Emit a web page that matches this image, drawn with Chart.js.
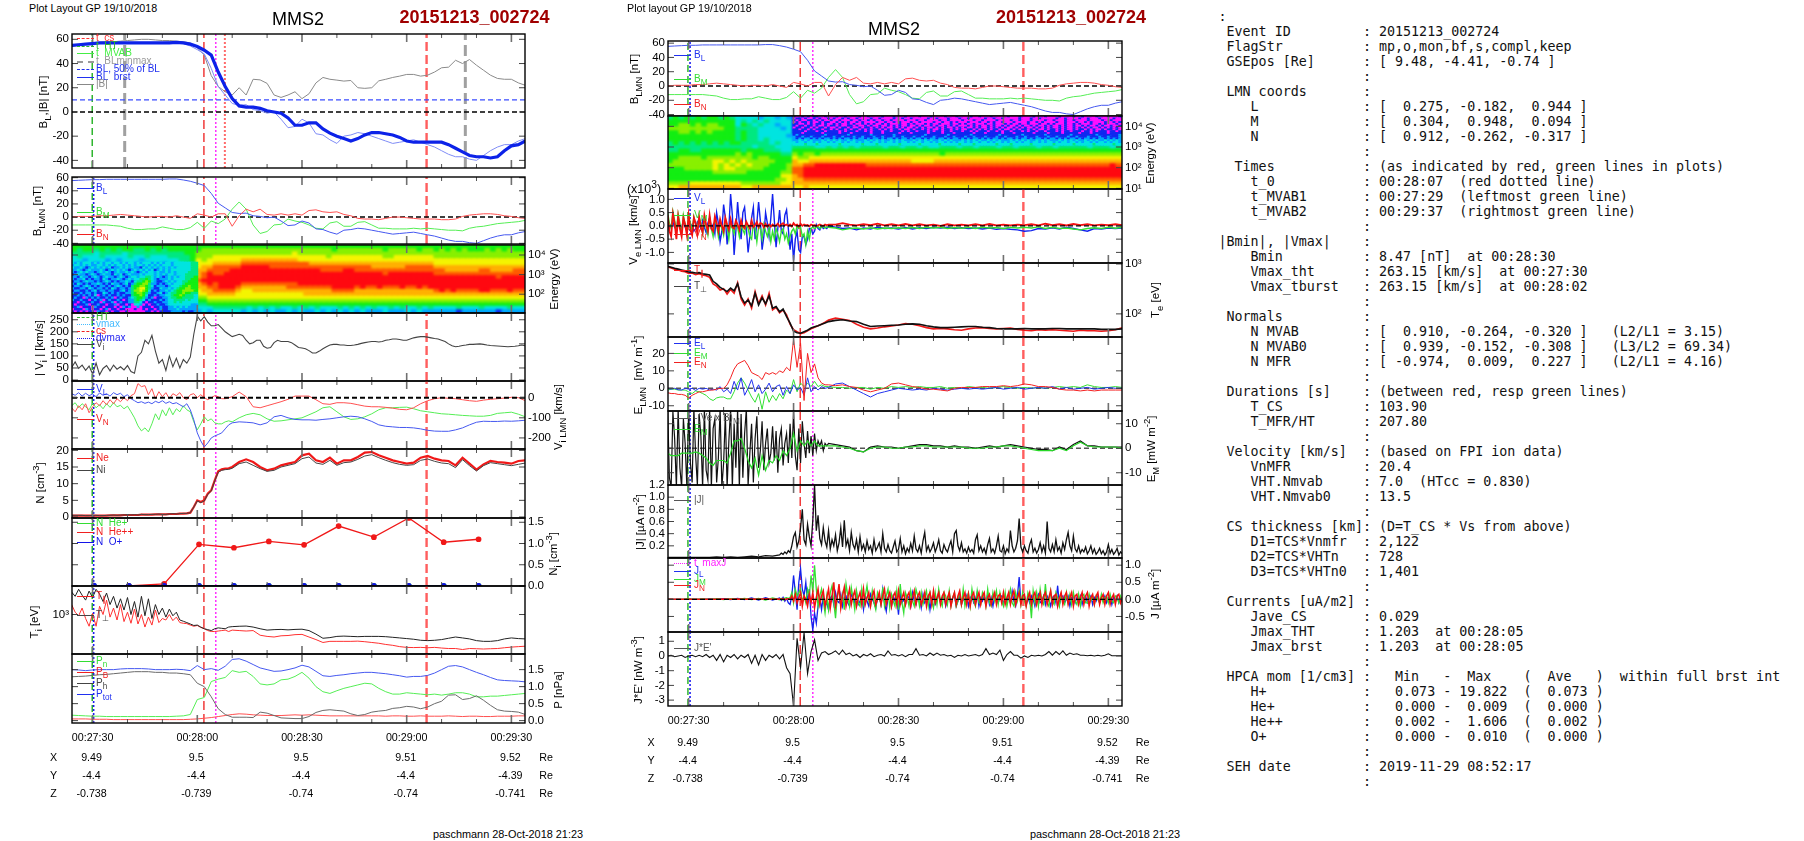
<!DOCTYPE html>
<html>
<head>
<meta charset="utf-8">
<title>MMS2 20151213_002724</title>
<script src="https://cdn.jsdelivr.net/npm/chart.js@4"></script>
<style>
  html, body { margin: 0; background: #fff; width: 1804px; height: 841px; overflow: hidden; }
  body { position: relative; font-family: "Liberation Sans", Arial, sans-serif; color: #000; }
  canvas { position: absolute; }
  .t { position: absolute; white-space: nowrap; line-height: 1; }
  .c { transform: translate(-50%, -50%); }
  .r { transform: translate(-50%, -50%) rotate(-90deg); font-size: 11.5px; }
  .k { position: absolute; height: 0; width: 17px; }
  sub, sup { font-size: 82%; line-height: 0; }
  pre { position: absolute; left: 1218.5px; top: 8.5px; margin: 0; font: 13.33px/15px "DejaVu Sans Mono", monospace; color: #111; }
</style>
</head>
<body>
<pre id="info"></pre>
<script>
// time axis, seconds after 00:27:30
const tMin = -5.9, tMax = 123.9;
const tOne = [], tTwo = [], tMix = [], tHalf = [], tJ = [];
for (let t = -6; t <= 124; t++) tOne.push(t);
for (let t = -6; t <= 124; t += 2) tTwo.push(t);
for (let t = -6; t <= 40; t++) tMix.push(t);
for (let t = 42; t <= 124; t += 2) tMix.push(t);
for (let t = -6; t <= 40; t += 0.5) tHalf.push(t);
for (let t = 42; t <= 124; t += 2) tHalf.push(t);
for (let t = -6; t < 26; t += 2) tJ.push(t);
for (let t = 26; t <= 124; t += 0.5) tJ.push(t);
const timeMajor = [0, 30, 60, 90, 120];
const timeMinor = [10, 20, 40, 50, 70, 80, 100, 110];
const timeLabels = ['00:27:30', '00:28:00', '00:28:30', '00:29:00', '00:29:30'];
const posX = ['9.49', '9.5', '9.5', '9.51', '9.52'];
const posY = ['-4.4', '-4.4', '-4.4', '-4.4', '-4.39'];
const posZ = ['-0.738', '-0.739', '-0.74', '-0.74', '-0.741'];

// magnetic field, tTwo
const bThick = [55,55.5,56,56.5,57,57,57,57,57,57,57,57,57,57,57,57.5,57,56,54,51,47,33,21,11,5,4,4,3,1,0,-1,-5,-11,-11,-9,-9,-14,-17.5,-20,-22,-24,-22,-19,-17,-17,-18,-19,-21,-24,-25,-25,-25,-25,-25,-27,-30,-33,-36,-37,-37,-38,-37,-32,-28,-27,-24];
const bTotal = [54,55,56,57,57.5,58,58,58.5,59,59.5,60,60,59.5,59,59,58.5,58,57,53,47,30,21,16.7,14,20,14,27,26.5,23.6,14,12,14,16.7,11,15,24,28.5,27,26.3,25.5,26,20,19.5,20,25.7,27,28.5,29.6,31,31,29.6,30.4,33,36.5,37,42.7,40,43.3,38.6,34.5,30.4,27.7,27,27,24,22];
const bL = [55.5,56,56.5,57,57,57.5,57.5,57.5,57.5,57.5,57.5,57.5,57.5,57.5,58,58,56.5,54.5,51.5,48,36,21,14,7,5.5,6,2,1,-1,0,-6,-13,-12,-6,-9,-18,-19,-23,-26,-20,-19,-17,-18,-20,-22,-24,-26,-25,-24,-23,-25,-27,-29,-32,-35,-37,-37,-39,-40,-36,-32,-29,-27,-27,-24,-22];
const bM = [-12,-12,-12,-12,-12,-12,-13,-14,-17,-19,-19,-18,-18,-15,-17,-19,-19,-16,-8,-17,-6,-10,-3,12,23,12,-12,-25,-22,-12,-11,-3,-6,-8,-12,-17,-18,-9,-7,-14,-14,-8,-7,-12,-17,-17,-18,-18,-18,-17,-18,-17,-18,-19,-20,-20,-21,-17,-15,-14,-12,-10,-9,-8,-7,-5];
const bN = [0,1,1,1,2,2,3,4,3,2,1,0,1,1,0,2,0,-2,5,3,0,5,5,-14,2,12,8,12,4,3,5,3,5,3,10,11,8,7,8,4,2,-2,-3,-3,-4,-2,0,0,-1,-2,-3,-3,-3,-4,-4,-3,1,3,4,5,5,4,2,1,-1,-2];

// ion speed, tOne
const vIon = [52,75,48,62,40,58,25,70,22,48,60,38,62,45,55,42,60,35,28,100,115,165,150,185,120,70,85,40,100,55,90,50,85,70,95,190,265,245,263,240,225,225,230,215,200,190,180,185,190,185,165,150,155,165,165,140,132,135,155,165,160,160,160,155,145,135,133,130,122,112,112,120,130,138,145,148,148,145,145,143,143,145,148,152,155,158,160,160,158,160,165,167,170,170,168,165,165,170,175,178,180,180,178,175,172,170,165,160,150,142,138,140,143,145,148,148,149,150,148,145,143,142,141,140,139,138,139,140,142,145,142];

// ion velocity components, tMix
const vL = [20,12,25,8,22,10,18,5,24,12,20,8,25,15,22,5,15,-5,-15,-25,-20,-28,-22,-30,-18,-25,-15,-28,-20,-30,-25,-35,-45,-30,-60,-110,-175,-215,-245,-225,-200,-190,-183,-175,-155,-135,-125,-120,-122,-125,-135,-125,-95,-88,-100,-108,-110,-110,-112,-108,-105,-100,-95,-92,-95,-105,-118,-135,-142,-145,-148,-148,-150,-155,-162,-166,-167,-167,-160,-150,-135,-122,-117,-118,-118,-116,-117,-115,-112];
const vM = [-40,-25,-50,-30,-45,-60,-28,-50,-35,-55,-30,-48,-25,-45,-38,-55,-42,-70,-100,-140,-165,-150,-170,-130,-80,-110,-60,-90,-50,-85,-55,-70,-40,-60,-70,-120,-160,-130,-95,-115,-105,-125,-130,-130,-120,-115,-120,-100,-85,-78,-85,-105,-117,-115,-110,-105,-100,-85,-70,-50,-45,-70,-95,-108,-105,-95,-80,-60,-50,-50,-48,-47,-55,-65,-70,-75,-80,-82,-85,-88,-90,-92,-92,-88,-78,-75,-72,-82,-95];
const vN = [-50,-70,-40,-60,-30,-75,-45,-25,-40,-15,-35,-10,-30,-5,-20,0,-15,10,20,70,55,60,15,45,-5,30,5,25,-5,20,10,25,0,-10,15,20,0,15,0,-10,0,10,5,-5,-5,0,5,28,5,-45,-50,-40,-30,-20,-8,8,8,8,-10,-30,-33,-25,-25,-28,-35,-42,-45,-45,-48,-52,-58,-60,-50,-30,-15,-5,0,-3,-5,-10,-15,-18,-12,-8,-5,-2,2,0,-15];

// densities, tMix
const nE = [.4,.4,.4,.4,.4,.4,.4,.4,.4,.4,.4,.5,.5,.5,.5,.6,.6,.6,.6,.6,.7,.7,.7,.7,.8,.8,.8,.8,.9,.9,.9,1,1,1.1,1.3,3,5,4.5,5,7,8,11,13.7,14.3,14.5,14.6,15,16.5,17.3,16.5,15,14,14.5,15.5,16,16.5,18.5,19,17,16.5,17.8,16,17,17,18,19.3,19.5,18.5,17.8,17,16.5,16,16.3,17.8,18.3,17.5,17,16.8,15.5,17.8,16,14.2,15.8,16.8,16.5,16.3,16,16.8,17];
const nI = [.5,.5,.5,.5,.4,.4,.5,.5,.4,.4,.5,.5,.6,.5,.6,.6,.7,.6,.7,.6,.8,.7,.7,.8,.8,.9,.8,.8,.9,1,.9,1,1.1,1.1,1.3,3,4.8,4.3,4.8,6.8,7.8,10.8,13.4,14,14.2,14.3,14.6,16,16.5,15.5,14.5,13.7,14,15,15.5,16,17.5,18,16.2,15.8,17,15.5,16.3,16.5,17.3,18.3,18.7,17.8,17,16.3,15.8,15.5,15.7,17,17.4,16.7,16.2,16,14.8,17.2,15.4,13.8,15.4,16.3,16,15.7,15.4,15.8,16.2];

// HPCA minor ions
const tHpca = [0.4,10.4,20.5,30.5,40.5,50.5,60.6,70.5,80.6,90.6,100.6,110.6];
const nHePlus = [.003,.003,.003,.003,.003,.003,.003,.003,.003,.003,.003,.003];
const nHePP = [null,0,.05,.98,.9,1.05,.97,1.41,1.15,1.6,1.03,1.1];
const nOPlus = [.01,.005,.005,.005,.005,.005,.005,.005,.005,.005,.005,.005];

// ion temperatures, tMix
const tiPerp = [2500,2100,2800,2200,1800,2600,2000,2800,2300,1700,2400,1500,2100,1300,1900,1200,2000,1000,1700,900,2100,950,1900,850,1500,1000,1300,900,1250,950,1100,800,760,720,680,640,650,600,560,540,520,560,580,570,560,600,610,620,625,600,560,530,540,545,535,545,550,520,450,380,390,410,415,410,405,410,410,410,405,395,385,375,365,350,345,350,360,380,400,385,370,345,335,335,345,370,385,375,370];
const tiPar = [1500,1100,950,1300,850,620,1050,620,1400,1000,1800,900,1300,800,1500,750,1100,700,1250,680,1000,600,900,650,1200,720,850,800,1000,780,900,720,700,690,650,620,640,590,560,520,500,500,510,520,530,500,530,520,510,520,430,410,400,420,425,440,445,400,360,320,335,335,335,335,338,330,320,310,295,285,270,262,260,262,258,262,255,250,250,240,250,248,245,248,250,258,265,270,275];

// pressures, tTwo
const pTot = [1.5,1.49,1.47,1.49,1.5,1.5,1.5,1.52,1.53,1.53,1.53,1.52,1.5,1.5,1.5,1.51,1.5,1.47,1.62,1.5,1.53,1.48,1.6,1.8,1.82,1.75,1.65,1.55,1.5,1.45,1.46,1.5,1.55,1.63,1.58,1.45,1.32,1.3,1.33,1.35,1.38,1.4,1.42,1.42,1.4,1.38,1.35,1.32,1.28,1.3,1.3,1.33,1.4,1.5,1.6,1.62,1.58,1.5,1.42,1.35,1.27,1.2,1.18,1.17,1.16,1.14];
const pDyn = [.16,.15,.14,.13,.13,.12,.12,.12,.12,.12,.12,.12,.12,.12,.12,.13,.14,.18,.62,.68,1.15,1.22,1.27,1.47,1.42,1.45,1.3,1.08,1.05,1.08,1.2,1.22,1.3,1.42,1.25,1,.85,.8,.88,.95,1,1.05,1.1,1.08,.95,.85,.78,.78,.82,.8,.78,.76,.78,.75,.78,.82,.82,.78,.7,.7,.72,.72,.74,.76,.78,.8];
const pMag = [.05,.05,.05,.04,.04,.04,.03,.03,.03,.03,.03,.03,.03,.03,.03,.03,.03,.04,.05,.07,.09,.12,.15,.18,.2,.19,.17,.16,.15,.15,.15,.16,.17,.16,.17,.16,.15,.14,.14,.14,.14,.14,.14,.14,.14,.13,.14,.14,.13,.13,.14,.13,.13,.13,.14,.13,.12,.13,.13,.12,.12,.13,.13,.13,.14,.14];
const pTh = [1.29,1.3,1.31,1.33,1.35,1.36,1.38,1.4,1.42,1.44,1.44,1.44,1.42,1.42,1.4,1.4,1.38,1.35,1.1,1,.7,.35,.18,.1,.1,.1,.09,.25,.22,.15,.08,.07,.06,.06,.12,.24,.3,.32,.3,.28,.2,.15,.18,.25,.28,.3,.36,.38,.42,.4,.35,.4,.5,.57,.75,.76,.62,.65,.73,.6,.45,.32,.28,.27,.25,.18];

// electron velocity, tHalf
const veL = [.1,-.1,.05,.15,-.05,-.15,.1,.02,-.1,.2,-.05,-.1,.1,-.05,.05,-.2,-.1,.15,.02,-.1,.2,-.05,-.25,.1,.3,-.1,.05,-.3,.5,.1,-.6,-.2,.8,.3,-.7,-.1,1.2,.4,-1.1,-.2,.9,.1,-.5,.5,.7,-.1,-1,-.4,.3,.7,-.5,.1,.9,.2,-.9,-.4,.5,.1,-.4,.3,1.2,.2,-.8,-.1,.6,-.2,-.3,.4,.6,-.1,-.9,-.3,-1.3,-.5,-.2,-.9,-1,-.4,-.4,-.7,-.5,-.1,-.1,-.3,-.2,.05,-.1,-.15,0,-.1,-.05,-.1,0,
 -.05,-.1,-.08,-.15,-.08,-.12,-.05,-.1,-.08,-.12,-.06,-.12,-.07,-.1,-.05,-.08,-.05,-.1,-.07,-.1,-.08,-.12,-.08,-.13,-.1,-.13,-.15,-.2,-.18,-.1,-.12,-.07,-.12,-.05,-.1,-.15,-.2,-.1,-.12,-.08,-.1,-.08];
const veM = [.5,.1,-.1,.55,.2,-.2,.45,.1,-.3,.4,.05,-.15,.4,.1,-.2,.35,.05,-.1,.3,.1,-.3,.25,-.05,-.35,.3,-.1,-.4,.2,.05,-.4,.15,-.1,-.35,.2,0,-.5,.1,-.1,-.3,.15,-.05,-.4,.1,-.15,-.3,.1,-.1,-.4,-.5,.05,-.1,-.6,-.05,-.1,-.5,.05,-.2,-.4,-.1,-.6,-.2,-.5,-.1,-.3,-.6,-.2,-.1,-.5,-.3,-.65,-.4,-.2,-.1,-.3,0,-.1,-.05,-.4,-.3,-.7,-.2,-.5,-.1,-.05,-.1,-.05,-.02,-.1,-.05,-.02,-.08,-.03,-.05,
 -.08,-.15,-.1,-.08,-.12,-.07,-.12,-.08,-.1,-.07,-.1,-.06,-.1,-.05,-.08,-.05,-.1,-.06,-.09,-.05,-.1,-.05,-.08,-.06,-.1,-.05,-.08,-.05,-.08,-.04,-.1,-.05,-.1,-.08,-.12,-.15,-.1,-.07,-.1,-.05,-.09,-.05];
const veN = [.4,-.2,-.4,.45,.1,-.5,.35,-.1,-.4,.3,.05,-.35,.4,-.15,-.35,.3,.1,-.3,.35,-.05,-.25,.4,.05,-.2,.4,-.1,-.2,.35,.1,-.2,.25,0,-.2,.3,.05,-.15,.25,-.05,-.1,.2,.05,-.15,.2,-.03,-.1,.15,.02,-.1,.2,-.05,.02,.15,-.05,.1,.08,-.05,.08,-.03,.05,-.03,.05,0,.02,.08,-.02,.05,.1,.02,.05,0,.05,-.02,.1,.02,.05,-.03,.08,0,.05,.02,.03,-.02,.05,.02,.03,0,.02,.05,.02,0,.05,.02,.05,
 .05,.1,.05,.02,.06,.03,.08,.02,.06,.02,.07,.02,.06,.02,.05,0,.06,.02,.05,.02,.06,.02,.07,.02,.05,.02,.05,.03,.06,.02,.08,.03,.06,.02,.07,.03,.06,.02,.05,.03,.06,.02];

// electron temperature, tMix
const tePerp = [900,860,820,790,760,730,690,680,660,670,640,620,600,450,400,340,310,280,330,290,400,220,165,190,145,260,150,210,160,230,130,140,110,125,88,65,45,42,41,44,47,52,55,58,62,66,70,74,76,72,70,62,56,57,58,59,60,62,63,62,58,55,53,53,54,55,56,56,54,53,51,50,50,50,51,50,50,50,51,51,50,50,50,50,50,49,49,49,50];
const tePar = [880,830,790,770,720,700,650,660,610,640,600,580,540,400,360,300,320,250,310,260,420,200,150,200,130,280,160,230,150,260,120,135,105,120,95,62,48,44,40,42,46,50,54,58,62,68,75,82,78,74,62,54,50,52,55,57,60,64,62,58,53,50,51,50,48,47,50,52,53,51,50,51,52,49,47,46,48,47,48,47,46,45,47,46,46,45,46,48,53];

// electric field, tMix
const eL = [0,-.5,0,-.8,-1,0,-.5,0,-1.2,0,-.5,0,-1,-.5,-1,1,-2,-.5,-3,4,-1,6,-4,0,5,-2,2,-3,-.5,3,-2,1,2,-4,1,-3,2,-1,.5,-4,6,-2,1,-1,1,0,.5,2.5,3,1,-1,-3,-5,-3,-2,-1,0,-.5,-1,-.5,-1,0,-.5,-1,-.5,0,-.5,0,-.5,0,.5,-.5,0,.5,-.5,0,.5,0,1,-.5,.5,-.5,0,.5,-.5,0,.5,0,0];
const eM = [-1,-.5,-.5,-1,-1,-1,-2,-3,-1.5,-2,-3,-4,-6,-7,-5.5,-5,-5,-6,-6,-2,3,6,3,-1,-5,-8,-3,-12,-2,-8,-4,-7,-3,-6,-1,-3,5,-2,3,1,3,1,4,1,2,1,1,.5,.5,0,.5,.5,-.5,.5,0,1,.5,1,.5,1,.5,.5,1,0,.5,0,1,.5,.5,0,.5,1,.5,0,.5,0,.5,0,.5,1,.5,1,.5,2,1,.5,.5,1,.5];
const eN = [-2.5,-3,-3,-3.5,-3.5,-4,-5.5,-4,-3,-2,-2,-1.5,-1,-1,-.5,0,0,2,6,11,14,15,16,13,9,8,7,5,9,8,9,8,10,9,12,10,28,12,26,-7,20,9,14,6,3,2,2,1.5,2,1,.5,-1,-2,-1,0,2.5,3,2,1,.5,-.5,-.5,-1,-1.5,0,.5,.5,.5,1,1,1,1.5,1,1.5,2.5,2,1,1,.5,-.5,-1,-1,-1.5,-1,-1.5,-1,-1,-1,-1];
// tHalf
const emVexB = [16,-12,-16,15,4,-16,16,-8,-16,12,2,-16,16,-6,-14,16,-3,-15,14,5,-16,16,-9,-13,16,-16,8,12,-14,-4,16,-16,-6,14,-16,3,16,-16,10,-8,16,-16,14,-12,6,16,-15,-2,10,-14,4,13,-8,-1,11,-9,2,8,-6,-2,9,-5,7,-10,4,8,-7,2,6,-6,10,-4,15,-3,-9,8,-6,11,2,-4,7,-2,5,-3,6,-1,3,1,3,-1,2,1,2,
 1.5,1,.5,-1,-1.5,.5,1,.5,.5,0,.5,1,1.5,1.5,1,1,.5,1,.5,.5,0,.5,1,.5,1,1.5,1,.5,0,-.5,-.5,-1,.5,-.5,1.5,3,1,1,.5,.5,.5,.5];
// tMix
const emM = [-2,-3,-3,-3,-2,-2,-2,-2,-1.5,-2,-3,-4,-6,-7,-5,-5,-5,-6,-2,3,3,4,0,-5,-8,-4,-11,-3,-9,-5,-6,-3,-5,-1,-3,0,6,-1,3,1,3,1,3,1,1,1,1,1,.5,0,-1,-1.5,0,.5,.5,0,0,.5,.5,1,1,.5,.5,.5,.5,.5,0,0,0,.5,.5,1,1,.5,0,-.5,-1,-1,-1,0,-1,1,2.5,1,.5,.5,.5,.5,0];

// currents, tJ
const jMag = [.01,.01,.01,.01,.01,.01,.01,.02,.01,.02,.01,.02,.03,.02,.04,.03,
 .05,.08,.06,.1,.07,.12,.09,.2,
 .35,.42,.18,.28,.5,.8,.3,.22,.55,.35,.2,.62,1.2,.45,.7,.32,.22,.5,.28,.18,
 .45,.15,.3,.2,.38,.12,.25,.5,.18,.62,.2,.3,.12,.42,.22,.15,.3,.1,.35,.14,
 .22,.1,.28,.14,.2,.08,.3,.12,.18,.25,.1,.4,.16,.1,.22,.12,.08,.18,.28,.1,
 .14,.32,.1,.2,.07,.16,.1,.24,.12,.36,.15,.1,.2,.08,.28,.42,.12,.2,.1,.16,
 .25,.1,.18,.3,.12,.08,.22,.14,.1,.2,.28,.1,.4,.45,.2,.12,.25,.1,.15,.08,
 .18,.1,.14,.08,.3,.38,.12,.2,.1,.16,.07,.22,.32,.1,.15,.08,.2,.36,.12,.1,
 .2,.07,.15,.1,.45,.2,.1,.16,.28,.65,.18,.1,.2,.12,.08,.22,.3,.1,.16,.08,
 .14,.25,.1,.2,.08,.6,.16,.1,.22,.1,.3,.12,.18,.08,.25,.14,.3,.42,.2,.12,
 .36,.15,.1,.2,.08,.14,.1,.18,.07,.12,.2,.08,.15,.06,.1,.16,.07,.12,.05,.1,
 .22,.08,.14,.06,.1,.16,.05,.1,.07];
const jL = [0,0,0,0,0,0,.01,0,.02,-.01,.03,-.01,.04,-.02,.05,-.02,
 .04,-.03,.06,-.05,.03,-.1,-.15,.1,
 .7,.2,-.3,.5,.9,.3,.1,.5,-.1,.3,-.5,-.9,-.4,-.7,-.2,.05,-.3,.1,-.2,-.1,
 -.3,.05,.1,-.15,.2,-.05,-.1,.15,-.2,.05,.1,-.1,-.2,.15,.05,-.1,.2,-.15,-.05,.1,
 -.3,.1,-.05,-.2,.15,0,-.1,-.25,.05,.1,-.15,.3,-.1,-.35,.05,.15,-.2,.1,-.05,.05,
 -.45,.2,-.1,0,-.15,.1,.05,-.2,.2,-.05,-.15,.1,.05,-.25,.15,-.1,0,.1,-.3,.05,
 .1,-.15,-.05,.2,-.1,.05,.1,-.2,0,.15,-.15,.05,.1,-.2,-.05,.1,-.15,.05,-.1,.1,
 -.2,.05,.1,-.1,0,.2,-.2,.05,-.05,.1,-.1,.15,-.15,.05,-.2,.1,0,-.1,.05,.1,
 -.15,.05,-.05,.1,-.1,.25,-.05,-.2,.1,.65,-.1,.05,.1,-.15,.05,-.1,.1,0,-.2,.05,
 .15,-.1,-.05,.1,-.15,.1,0,-.2,.05,.1,-.1,.4,-.15,.05,.1,-.1,0,.1,-.2,.05,
 .1,-.1,.05,-.05,.1,-.15,.05,.1,-.1,0,.1,-.15,.05,-.05,.1,-.1,.05,-.05,.1,-.1,
 .05,.1,-.15,.05,-.05,.1,-.1,.05,-.05];
const jM = [0,0,0,.01,0,.01,0,.02,-.01,.02,0,.03,-.01,.03,-.02,.04,
 -.01,.03,-.02,.04,.05,.02,.05,.2,
 -.1,.3,.1,.2,.3,-.05,.1,-.1,.3,.1,.7,.2,1,.3,-.2,.1,.3,-.05,-.4,.1,
 -.3,.2,.4,-.1,-.55,.1,.3,-.2,.15,-.3,.45,.1,-.2,.35,.05,-.3,.25,-.1,-.2,.3,
 -.15,.1,.4,-.05,-.2,.25,-.1,-.3,.2,.05,-.15,.35,-.2,.1,.3,-.25,.15,-.05,-.2,.25,
 -.3,.45,-.1,-.4,.2,.05,-.2,.25,-.05,-.2,.3,.1,-.2,.2,-.15,.05,.25,-.2,.2,-.05,
 -.25,.2,-.15,.3,-.05,-.2,.2,.1,-.15,.25,-.2,.05,.2,-.2,-.05,.2,-.15,.3,-.2,.05,
 .2,-.2,.3,-.05,-.2,.25,-.1,-.15,.2,.05,-.2,.3,-.1,-.2,.2,-.05,.25,-.15,.2,-.05,
 -.2,.2,-.2,.05,.3,-.1,-.2,.2,-.05,.25,-.15,.2,-.05,-.2,.2,.05,-.55,.25,-.1,.2,
 -.2,.3,-.05,-.15,.45,-.1,-.2,.25,-.05,-.15,.2,.05,-.2,.15,-.05,-.15,.2,-.1,.15,-.15,
 .2,-.05,-.15,.15,-.2,.1,.15,-.1,-.1,.15,-.05,.1,-.15,.1,0,-.1,.15,-.1,.05,.1,
 -.1,.15,-.05,-.1,.1,.05,-.1,.1,-.05];
const jN = [0,0,0,0,0,0,0,0,.01,0,.01,0,.01,0,.02,0,
 .01,0,.02,-.01,.01,.02,0,.1,
 -.05,.15,-.1,.05,.2,-.2,.1,0,-.2,.15,-.1,.2,-.25,.05,.3,-.15,.1,.25,-.2,.05,
 .3,-.25,.1,.5,-.2,.05,.45,-.25,.1,.35,-.2,.05,.3,-.15,.1,.25,-.2,.05,.2,-.15,
 .3,-.15,.05,.2,-.2,.1,.25,-.15,0,.2,-.15,.1,.3,-.15,.05,.2,-.2,.1,.2,-.15,
 .25,-.15,.05,.2,-.15,.1,.2,-.2,.05,.25,-.15,.1,.2,-.15,0,.2,-.2,.1,.2,-.15,
 .25,-.1,.05,.2,-.15,.1,.2,-.15,.05,.2,-.2,.05,.2,-.15,.1,.25,-.15,.05,.2,-.15,
 .15,-.2,.1,.2,-.15,.05,.2,-.15,.1,.2,-.2,.05,.15,-.15,.05,.2,-.15,.1,.15,-.1,
 .2,-.15,.05,.2,-.15,.1,.25,-.15,.05,.2,-.15,.1,.15,-.2,.05,.2,-.15,.1,.2,-.15,
 .05,.2,-.15,.1,.2,-.15,.05,.25,-.15,.1,.15,-.2,.05,.2,-.15,.1,.2,-.15,.05,.2,
 -.2,.1,.15,-.15,.05,.2,-.15,.1,.2,-.2,.05,.15,-.15,.1,.2,-.15,.05,.15,-.15,.1,
 .2,-.15,.05,.15,-.15,.1,.15,-.1,.05];
// tOne
const jDotE = [0,.05,-.05,0,.05,-.1,0,.05,-.05,.05,-.05,.1,-.1,.05,-.3,.1,-.4,.05,-.1,.1,-.2,.05,-.1,.1,-.5,.05,-.6,.1,-.3,.05,-.1,.1,-.2,.1,-.8,-1.2,-3.4,1.2,-.8,1.6,-1.2,.3,1.1,-.3,.2,.3,.1,.2,.35,.1,.4,.1,.2,0,.1,-.1,.1,0,.15,-.05,.05,.1,0,.35,.05,.1,0,.1,-.05,.1,.1,.5,.05,.1,0,.2,.05,.2,.05,.1,0,.05,-.1,.05,0,.1,0,.05,.1,0,.1,.5,.1,.2,.1,.4,-.3,.1,.3,.05,.05,-.15,0,-.1,.05,0,.05,0,.1,.3,.05,.3,.1,.35,.05,.2,.1,.15,.05,.05,.02,.05,0,.05,0,.05,.15,.02,.02,.02,.02];

// spectrogram levels: one string per energy row (top row first), one character per time bin
const ionRows = [
 '5555555555555555555555'+'55555555'+'55555555555555555555'+'55555555555555'+'5555555555555555',
 '5455454545544545455555'+'56666666'+'66666666666666665666'+'66666566666566'+'5656565556565655',
 '4444344443444444444455'+'66666666'+'66666666676666666666'+'66666666666666'+'6666666666666666',
 '3433343333433433344445'+'66677777'+'77777777777777767777'+'77777667777777'+'6666666666666666',
 '3323332323332333333445'+'76777777'+'88888888887777777777'+'77777777777777'+'7777777777777777',
 '3233232323323233233344'+'77788888'+'99999999999988888888'+'88888888888888'+'7777777777777777',
 '2322323232232323323334'+'78899999'+'aaaaa999999999999999'+'99988888899999'+'8888888888888888',
 '2321232123232323233334'+'889999aa'+'aaaaaaaaaaaaaa9999aa'+'99999999999999'+'9988888899888899',
 '2212321223231223233334'+'89a99aaa'+'aaaaaaaaaaaaaaaaaaaa'+'aaaaa9aaaaaaaa'+'9999999999999999',
 '1221232122132232233334'+'89aaaaaa'+'aaaaaaaaaaaaaaaaaaaa'+'aaaaaaaaaaaaaa'+'aaaaaaaaaaa9aaaa',
 '2122121221232322233334'+'9aaaaaaa'+'aaaaaaaaaaaaaaaaaaaa'+'aaaaaaaaaaaaaa'+'aaaaaaaaaaaaaaaa',
 '1212212123332122323344'+'89a9aaaa'+'9999999999aaaaaaaaaa'+'aaaaaaaaaaaaaa'+'aaaaaaaaaaaaaaaa',
 '1221121221343122233344'+'8899aaa9'+'8888888899999999aaaa'+'9a99a999a99a9a'+'aaaaaaaaaaaaaaaa',
 '2112112122454212123344'+'78899998'+'77888888888888889999'+'88888888888888'+'9a9a9999aa999a99',
 '1211221212565321223345'+'77888887'+'77777777777888888888'+'88888888888888'+'8888888888888888',
 '2112112121564212324555'+'66777777'+'77777777777777777777'+'77777777777777'+'7777777777777777',
 '1211201212554122345655'+'55666666'+'66666666666666666666'+'66666666666666'+'6666666666666666',
 '1021121211450211245544'+'44555555'+'55555555555555555555'+'55555555555555'+'5555555555555555',
 '1110121010401101123433'+'33344444'+'43434343343434333434'+'34343343433434'+'3333433343333433',
 '0111021101001012112322'+'23233333'+'23232322323223232323'+'23222322232322'+'2222122222212222'
];
// finer bins for the low-count part of the ion panel, before 00:28:00
const ionFineRows = [
 '32323332323233233232332323332323233233333344',
 '23323232233232323323232332323232333233333344',
 '32232123232323122323232213232323232323333344',
 '22321232223212323232123232323123232333333344',
 '21232322123232123223232123233232232323333444',
 '12322123212322132312322232333232323323334444',
 '22132212321232212321233233443232123232334445',
 '21223121221321223212323344543212223233334455',
 '12212322121232121223213445653211232323344555',
 '21321212232121322123124556642212123233345555',
 '12212321212212123212145566543122212333455655',
 '21122132122121321221245677542113223234556655',
 '12211212312212211231246676531212232345566665',
 '21121221211321212112245665421123123445565544',
 '11212121301212112121145565311212233455654443',
 '12110212121121201211234554212011223445544443',
 '21121101212012112101224543121112123344443433',
 '11012112110211201211224431011211223343433333',
 '10111201121101120110103320101121123333333322',
 '11201110211011101021200201110112112232323222',
 '01110210110120110110001001011012112223222222',
 '10101011021101011001000000110101111222212112'
];
const electronRows = [
 '4545454554543333233232'+'1101011010010010100100010010000100001000100100010000100100',
 '5555555555553434343333'+'1010110101100101001001000100100100010010001000100101001000',
 '5566565665553543433233'+'1111011010110010101000100101001000010001010001001000100010',
 '6666666666554444333323'+'1101101101011011010101011010010100101001001010100101001001',
 '5566565655554544333333'+'1111111011011101101011010110101011010010110101011010100110',
 '5555555555554544333332'+'2112111111211111211112111112111211111111211111121111112111',
 '5555555555554544343333'+'2122212112211221212122112212211221221212122121122121221212',
 '4545454545455444443433'+'3332323232232323323233232332323232232323323232323323232323',
 '4444444444444443444333'+'4444334343434444344344343344434434443443444344344444344434',
 '4455445555555455544433'+'5555555555555555555555555555555555555555555555555555555555',
 '5555555555556565555544'+'6566566666666666666666666656666666666666666666666666666666',
 '5566665666666665665555'+'7667777777777777777777777777777777777777777777777777777777',
 '5666666677676766666555'+'8778888888888888888887777888888888888888888888888888888888',
 '6666666676767676665556'+'8899aaaaaaaaa9999999999999999999999999999999999999999999a9',
 '5556666676776666655556'+'99aaaaaaaaaaaaaaaaaaaaaaaaaaaaaaaaaaaaaaaaaaaaaaaaaaaaaaaa',
 '5555555566666655555566'+'99aaaaaaaaaaaaaaaaaaaaaaaaaaaaaaaaaaaaaaaaaaaaaaaaaaaaaaaa',
 '5555555555555555555577'+'89aaaaaaaaaaaaaaaaaaaaaaaaaaaaaaaaaaaaaaaaaaaaaaaaaaaaaaaa',
 '5555555555555555555667'+'8899999999999999999999999999999999999999999999999999999999',
 '6666777777777666666677'+'8888888888888888888888888888888888888888888888888888888888',
 '7788888888888778888888'+'7787777777777777777777777777777777777777777777777777777777'
];
// finer bins for the high-energy electron counts, after 00:28:00
const electronFineRows = [
 '1001010110010001001000010010000100010001000010001000010001000010010001000001000100001000100001000010010000100010001',
 '0110100101001010010100100001001000010010010000010010001000100100000100100100000100010010000010010000100100010000100',
 '1010011010100100100010010010100100100001000100100001001000010001001000010000100100010000100100010010000100001001000',
 '0101101001011001010100101000010010010100010010000100100101000100010010100100010000100101000010010001001010000100101',
 '1100101011010010100101001010100101000100101000101001000100101001000100100010100100100010010100010010100010010100010',
 '1011011010010110100110100101001001010100100101001010010101000101010010100101001010010100101001010010010100101001001',
 '0110110101101001011010010110101010010101001010100101010010101001010010101010010101001010101001010010101010010101010',
 '1101101011011010110101101010110101011010010110101001011010100110101010110100101011010100101101010010110101001011010',
 '1111011101101111010111011010111011011101011011101011011011101101011101101011011101011011011101011011101101011101101',
 '1110111111011111011101111110111011111011101111101111011101111110111011111011101111110111101111011111011101111101111',
 '1211111111121111111211111112111111121111111111211111112111111121111111112111111121111111211111111211111111211111112',
 '2112112111211121121112112111211211121121112112111211121121112112111211121121112112111211121121112112111211121121112',
 '2121221212122121212212122121221212212122121221212212212122121212212121221212212122121221212212121221212212122121212',
 '2232323222323232322323222323232322323232223232323223232322232323232232323222323232322323232223232323223232322323232',
 '3233233232332323323233232332332323323233232332332323323232332323323323233232332323323323233232332332323323233232332',
 '3333433343333333433333334333343333333433333343333334333333433334333333343333433333343333333433333343333334333333433'
];

// y tick lists
const ticksB1 = [60,40,20,0,-20,-40], ticksB2 = [60,40,20,0,-20,-40];
const ticksV = [250,200,150,100,50,0], ticksVlmn = [0,-100,-200];
const ticksN = [20,15,10,5,0];
const ticksNi = [1.5,1,.5,0], ticksNiText = ['1.5','1.0','0.5','0.0'];
const ticksP = [1.5,1,.5,0], ticksPText = ['1.5','1.0','0.5','0.0'];
const ticksVe = [1,.5,0,-.5,-1], ticksVeText = ['1.0','0.5','0.0','-0.5','-1.0'];
const ticksE = [20,10,0,-10], ticksEm = [10,0,-10];
const ticksJ = [1.2,1,.8,.6,.4,.2], ticksJText = ['1.2','1.0','0.8','0.6','0.4','0.2'];
const ticksJlmn = [1,.5,0,-.5], ticksJlmnText = ['1.0','0.5','0.0','-0.5'];
const ticksJe = [1,0,-1,-2,-3];

const specColors = ['#ff10ff','#1028f0','#00a4ff','#00e4e0','#00e880','#12ee12','#88f000','#f4f400','#ffb000','#ff5a00','#ff0810'];
const BLUE = '#4558f0', GREEN = '#55ee55', RED = '#ff5050', GRAY = '#6a6a6a';

const MARK = {
  ht:  { color: '#2fb52f', dash: [7,4], w: 1.5 },
  dv:  { color: '#1c1cf0', dash: [2,2], w: 1.6 },
  cs:  { color: '#ee1c1c', dash: [9,4], w: 1.3 },
  mag: { color: '#ff20ff', dash: [2,2], w: 1.4 },
  dot: { color: '#ff6a6a', dash: [2,2], w: 2 },
  end: { color: '#ff5e5e', dash: [9,4], w: 2.4 },
  bl:  { color: '#a0a0a0', dash: [11,5], w: 3 }
};
const marksLeft = [[-0.1,'ht'],[0.3,'dv'],[31.9,'cs'],[35.3,'mag'],[95.7,'end']];
const marksTop = [[-0.1,'ht'],[9.2,'bl'],[31.9,'cs'],[35.3,'mag'],[37.9,'dot'],[95.7,'end'],[106.8,'bl']];
const marksRight = [[-0.2,'ht'],[0.4,'dv'],[31.9,'cs'],[35.5,'mag'],[95.7,'end']];

const FONT = '"Liberation Sans", Arial, sans-serif';
Chart.defaults.font.family = FONT;
Chart.defaults.color = '#000';

const panelFrame = {
  id: 'panelFrame',
  afterDatasetDraw(chart, args) {
    // soften the coarse spectrogram bins, the finer layer goes on top afterwards
    if (!chart.data.datasets[args.index].softenAfter) return;
    const { ctx, chartArea: a } = chart;
    ctx.save();
    ctx.beginPath();
    ctx.rect(a.left, a.top, a.right - a.left, a.bottom - a.top);
    ctx.clip();
    ctx.filter = 'blur(1.3px)';
    ctx.drawImage(chart.canvas, 0, 0);
    ctx.restore();
  },
  afterDatasetsDraw(chart) {
    const { ctx, chartArea: a, scales: { x, y } } = chart;
    ctx.save();
    ctx.strokeStyle = '#555';
    ctx.lineWidth = 1;
    for (const t of timeMinor) {
      const p = x.getPixelForValue(t);
      ctx.beginPath();
      ctx.moveTo(p, a.top); ctx.lineTo(p, a.top + 4);
      ctx.moveTo(p, a.bottom); ctx.lineTo(p, a.bottom - 4);
      ctx.stroke();
    }
    ctx.strokeStyle = '#707070';
    ctx.lineWidth = 1.6;
    for (const t of timeMajor) {
      const p = x.getPixelForValue(t);
      ctx.beginPath();
      ctx.moveTo(p, a.top); ctx.lineTo(p, a.top + 8);
      ctx.moveTo(p, a.bottom); ctx.lineTo(p, a.bottom - 8);
      ctx.stroke();
    }
    ctx.strokeStyle = '#444';
    ctx.lineWidth = 1;
    for (const tick of y.ticks) {
      const p = y.getPixelForValue(tick.value);
      ctx.beginPath();
      ctx.moveTo(a.left, p); ctx.lineTo(a.left + 6, p);
      ctx.moveTo(a.right, p); ctx.lineTo(a.right - 6, p);
      ctx.stroke();
    }
    ctx.strokeStyle = '#000';
    ctx.lineWidth = 1.4;
    ctx.strokeRect(a.left, a.top, a.right - a.left, a.bottom - a.top);
    ctx.restore();
  }
};

function zip(ts, vs) {
  return vs.map((v, i) => ({ x: ts[i], y: v }));
}
function line(ts, vs, color, width) {
  return { type: 'line', data: zip(ts, vs), borderColor: color, borderWidth: width || 1, pointRadius: 0, tension: 0 };
}
function dotted(ts, vs, color) {
  return { type: 'line', data: zip(ts, vs), borderColor: color, backgroundColor: color, borderWidth: 1.3, pointRadius: 2.2, tension: 0 };
}
function flat(v, color, dash, width) {
  return { type: 'line', data: [{ x: tMin, y: v }, { x: tMax, y: v }], borderColor: color, borderDash: dash, borderWidth: width, pointRadius: 0 };
}
function marks(list, yMin, yMax) {
  return list.map(([t, key]) => ({
    type: 'line', data: [{ x: t, y: yMin }, { x: t, y: yMax }], borderColor: MARK[key].color,
    borderDash: MARK[key].dash, borderWidth: MARK[key].w, pointRadius: 0
  }));
}
function spectrogram(rows, logMax, logMin, tStart, tEnd) {
  const de = (logMax - logMin) / rows.length;
  return rows.map((row, r) => {
    const dt = (tEnd - tStart) / row.length;
    const hi = Math.pow(10, logMax - r * de), lo = Math.pow(10, logMax - (r + 1) * de);
    const cells = [], colors = [];
    for (let c = 0; c < row.length; c++) {
      cells.push({ x: tStart + (c + 0.5) * dt, y: [lo, hi] });
      colors.push(specColors[parseInt(row[c], 11)]);
    }
    return { type: 'bar', data: cells, backgroundColor: colors, barThickness: Math.ceil(dt * 3.5) + 1, grouped: false, borderWidth: 0 };
  });
}
function softened(layer) {
  layer[layer.length - 1].softenAfter = true;
  return layer;
}

const columns = {
  left: { x0: 0, w: 600, l: 72, r: 525 },
  right: { x0: 620, w: 590, l: 668, r: 1122 }
};

function panel(colName, top, bottom, y, datasets) {
  const col = columns[colName];
  const pad = 12;
  const cv = document.createElement('canvas');
  cv.style.left = col.x0 + 'px';
  cv.style.top = (top - pad) + 'px';
  cv.width = col.w;
  cv.height = bottom - top + 2 * pad;
  cv.style.width = col.w + 'px';
  cv.style.height = cv.height + 'px';
  document.body.appendChild(cv);
  const L = col.l - col.x0, R = col.x0 + col.w - col.r;
  const side = y.side || 'left';
  const labels = y.labels || y.ticks.map(String);
  datasets.forEach((d, i) => { d.order = -i; });
  return new Chart(cv, {
    type: datasets[0].type,
    data: { datasets },
    plugins: [panelFrame],
    options: {
      responsive: false, animation: false, devicePixelRatio: 1,
      events: [],
      layout: { padding: { top: pad, bottom: pad, left: side === 'left' ? 0 : L, right: side === 'left' ? R : 0 } },
      plugins: { legend: { display: false }, tooltip: { enabled: false } },
      scales: {
        x: { type: 'linear', display: false, min: tMin, max: tMax, offset: false },
        y: {
          type: y.log ? 'logarithmic' : 'linear', position: side, min: y.min, max: y.max,
          grid: { display: false, drawTicks: false }, border: { display: false },
          afterBuildTicks: s => { s.ticks = y.ticks.map(v => ({ value: v })); },
          afterFit: s => { s.width = side === 'left' ? L : R; },
          ticks: {
            autoSkip: false, padding: 3, maxRotation: 0, color: '#000',
            font: { size: y.size || 11.5 },
            callback: (v, i) => labels[i]
          }
        }
      }
    }
  });
}

// left column
const Lc = [];
Lc.push(panel('left', 34, 168, { min: -46.3, max: 64.4, ticks: ticksB1 }, [
  ...marks(marksTop, -46.3, 64.4),
  flat(10, '#3a4cff', [5,3], 1.2), flat(0, '#000', [5,3], 1.5),
  line(tTwo, bTotal, '#8a8a8a'), line(tTwo, bL, '#7f8cf6'), line(tTwo, bThick, '#0c22e8', 3.2)
]));
Lc.push(panel('left', 177, 244, { min: -41, max: 61, ticks: ticksB2 }, [
  ...marks(marksLeft, -41, 61), flat(0, '#000', [5,3], 1.5),
  line(tTwo, bM, GREEN), line(tTwo, bL, BLUE), line(tTwo, bN, RED)
]));
Lc.push(panel('left', 245, 313, { log: true, side: 'right', min: 11, max: 32400, ticks: [1e4,1e3,1e2], labels: ['10\u2074','10\u00b3','10\u00b2'] }, [
  ...softened(spectrogram(ionRows, 4.51, 1.04, tMin, tMax)),
  ...spectrogram(ionFineRows, 3.64, 1.04, tMin, 30)
]));
Lc.push(panel('left', 313, 381, { min: -4, max: 278, ticks: ticksV }, [
  ...marks(marksLeft, -4, 278), line(tOne, vIon, '#444', 1.1)
]));
Lc.push(panel('left', 381, 449, { side: 'right', min: -255, max: 83, ticks: ticksVlmn }, [
  ...marks(marksLeft, -255, 83), line(tMix, vM, GREEN), line(tMix, vL, BLUE), line(tMix, vN, RED),
  flat(0, '#000', [5,3], 2)
]));
Lc.push(panel('left', 449, 518, { min: -0.3, max: 20.4, ticks: ticksN }, [
  ...marks(marksLeft, -0.3, 20.4), line(tMix, nE, '#f01818', 2.2), line(tMix, nI, '#444')
]));
Lc.push(panel('left', 518, 586, { side: 'right', min: 0, max: 1.6, ticks: ticksNi, labels: ticksNiText }, [
  ...marks(marksLeft, 0, 1.6), dotted(tHpca, nHePlus, '#33dd33'), dotted(tHpca, nHePP, '#f01818'), dotted(tHpca, nOPlus, '#1414e8')
]));
Lc.push(panel('left', 586, 654, { log: true, min: 200, max: 3200, ticks: [1000], labels: ['10\u00b3'] }, [
  ...marks(marksLeft, 200, 3200), line(tMix, tiPar, '#ff3030'), line(tMix, tiPerp, '#222')
]));
Lc.push(panel('left', 654, 723, { side: 'right', min: -0.07, max: 1.96, ticks: ticksP, labels: ticksPText }, [
  ...marks(marksLeft, -0.07, 1.96), line(tTwo, pMag, RED), line(tTwo, pDyn, GREEN), line(tTwo, pTh, GRAY), line(tTwo, pTot, BLUE)
]));

// right column
const Rc = [];
Rc.push(panel('right', 41, 116, { min: -42, max: 63, ticks: ticksB2 }, [
  ...marks(marksRight, -42, 63), flat(0, '#000', [5,3], 1.5),
  line(tTwo, bM, GREEN), line(tTwo, bL, BLUE), line(tTwo, bN, RED)
]));
Rc.push(panel('right', 116, 189, { log: true, side: 'right', min: 9.33, max: 31600, ticks: [1e4,1e3,1e2,1e1], labels: ['10\u2074','10\u00b3','10\u00b2','10\u00b9'] }, [
  ...softened(spectrogram(electronRows, 4.5, 0.97, tMin, tMax)),
  ...spectrogram(electronFineRows, 4.5, 3.09, 30, tMax)
]));
Rc.push(panel('right', 189, 263, { min: -1.4, max: 1.39, ticks: ticksVe, labels: ticksVeText }, [
  ...marks(marksRight, -1.4, 1.39), line(tHalf, veL, '#1222ee', 1.4), line(tHalf, veM, '#33e033', 1.4), line(tHalf, veN, '#f41010', 1.8),
  flat(0, '#000', [5,3], 1.3)
]));
Rc.push(panel('right', 263, 337, { log: true, side: 'right', min: 34.4, max: 1047, ticks: [1e3,1e2], labels: ['10\u00b3','10\u00b2'] }, [
  ...marks(marksRight, 34.4, 1047), line(tMix, tePar, '#f01818', 1.6), line(tMix, tePerp, '#111', 1.6)
]));
Rc.push(panel('right', 337, 411, { min: -13, max: 29.4, ticks: ticksE }, [
  ...marks(marksRight, -13, 29.4), flat(0, '#555', [5,3], 1.5),
  line(tMix, eM, '#33e033'), line(tMix, eL, '#2233ee'), line(tMix, eN, '#f42020')
]));
Rc.push(panel('right', 411, 485, { side: 'right', min: -15, max: 15.2, ticks: ticksEm }, [
  ...marks(marksRight, -15, 15.2), flat(0, '#555', [5,3], 1.3),
  line(tHalf, emVexB, '#111', 1.2), line(tMix, emM, '#28d828', 1.2)
]));
Rc.push(panel('right', 485, 558, { min: 0, max: 1.2, ticks: ticksJ, labels: ticksJText }, [
  ...marks(marksRight, 0, 1.2), line(tJ, jMag, '#111', 1.3)
]));
Rc.push(panel('right', 558, 632, { side: 'right', min: -0.955, max: 1.21, ticks: ticksJlmn, labels: ticksJlmnText }, [
  ...marks(marksRight, -0.955, 1.21), line(tJ, jL, '#1222ee', 1.3), line(tJ, jM, '#33e033', 1.3), line(tJ, jN, '#f41010', 1.5),
  flat(0, '#000', [5,3], 1.2)
]));
Rc.push(panel('right', 632, 706, { min: -3.4, max: 1.63, ticks: ticksJe }, [
  ...marks(marksRight, -3.4, 1.63), line(tOne, jDotE, '#111', 1.1)
]));

// text helpers
function text(x, y, html, size, extra) {
  const d = document.createElement('div');
  d.className = 't c';
  d.style.left = x + 'px';
  d.style.top = y + 'px';
  d.style.fontSize = size + 'px';
  if (extra) d.style.cssText += extra;
  d.innerHTML = html;
  document.body.appendChild(d);
  return d;
}
function leftText(x, y, html, size) {
  const d = text(x, y, html, size);
  d.style.transform = 'translateY(-50%)';
}
function rot(x, y, html) {
  const d = text(x, y, html, 11.5);
  d.className = 't r';
}
function legend(keyX, textX, items) {
  for (const [y, html, color, style, width] of items) {
    const k = document.createElement('div');
    k.className = 'k';
    k.style.left = keyX + 'px';
    k.style.top = y + 'px';
    k.style.borderTop = (width || 1) + 'px ' + style + ' ' + color;
    document.body.appendChild(k);
    const d = text(textX, y, html, 10, 'color:' + color);
    d.style.transform = 'translateY(-50%)';
  }
}

// titles
leftText(29, 8, 'Plot Layout GP 19/10/2018', 10.7);
text(298, 19, 'MMS2', 18);
text(474.5, 17, '20151213_002724', 18, 'color:#a00000;font-weight:bold');
leftText(627, 8, 'Plot layout GP 19/10/2018', 10.7);
text(894, 29, 'MMS2', 18);
text(1071, 17, '20151213_002724', 18, 'color:#a00000;font-weight:bold');
text(508, 834, 'paschmann 28-Oct-2018 21:23', 10.9);
text(1105, 834, 'paschmann 28-Oct-2018 21:23', 10.9);

// time labels and position rows, placed by the x scale
function footer(chart, labelY, rowYs, letterX, reX) {
  const x = chart.scales.x;
  timeMajor.forEach((t, i) => {
    const p = x.getPixelForValue(t) + parseFloat(chart.canvas.style.left);
    text(p, labelY, timeLabels[i], 10.7);
    text(p - 1, rowYs[0], posX[i], 10.7);
    text(p - 1, rowYs[1], posY[i], 10.7);
    text(p - 1, rowYs[2], posZ[i], 10.7);
  });
  ['X', 'Y', 'Z'].forEach((s, i) => {
    text(letterX, rowYs[i], s, 10.7);
    text(reX, rowYs[i], 'Re', 10.7);
  });
}
footer(Lc[Lc.length - 1], 736.7, [757, 775, 793], 53.6, 546);
footer(Rc[Rc.length - 1], 720, [742.3, 760, 777.7], 651, 1142.5);

// axis titles
rot(44, 101.7, 'B<sub>L</sub>,|B| [nT]');
rot(38, 211, 'B<sub>LMN</sub> [nT]');
rot(555, 279, 'Energy (eV)');
rot(40, 347.5, '| V<sub>i</sub> | [km/s]');
rot(559, 417, 'V<sub>i LMN</sub> [km/s]');
rot(41, 483, 'N [cm<sup>-3</sup>]');
rot(554, 554, 'N<sub>i</sub> [cm<sup>-3</sup>]');
rot(35, 621.7, 'T<sub>i</sub> [eV]');
rot(559, 690, 'P [nPa]');
rot(635, 79, 'B<sub>LMN</sub> [nT]');
rot(1151, 153, 'Energy (eV)');
rot(633.6, 230, 'V<sub>e LMN</sub> [km/s]');
text(644, 189, '(x10<sup>3</sup>)', 12.5);
rot(1156, 300, 'T<sub>e</sub> [eV]');
rot(638.6, 375, 'E<sub>LMN</sub> &nbsp;[mV m<sup>-1</sup>]');
rot(1152, 449, 'E<sub>M</sub> [mW m<sup>-2</sup>]');
rot(640.7, 522, '|J| [\u00b5A m<sup>-2</sup>]');
rot(1155.7, 594, 'J [\u00b5A m<sup>-2</sup>]');
rot(638.6, 670, 'J*E\' [nW m<sup>-3</sup>]');

// panel legends
legend(77, 96, [
  [37.7, 't&nbsp; cs', '#ff3030', 'dashed', 1],
  [45.7, 't&nbsp; HT', '#2fb52f', 'dashed', 1],
  [53, 't&nbsp; MVAB', '#44ee44', 'solid', 1],
  [60.7, 't&nbsp; BLminmax', '#999', 'dashed', 2],
  [68.7, 'BL, 50% of BL', '#2030f0', 'dashed', 1],
  [76.7, 'BL&nbsp; brst', '#2030f0', 'solid', 1],
  [84, '|B|', '#888', 'solid', 1],
  [188, 'B<sub>L</sub>', '#2030f0', 'solid', 1],
  [211.7, 'B<sub>M</sub>', '#33dd33', 'solid', 1],
  [234, 'B<sub>N</sub>', '#f02020', 'solid', 1],
  [317, 'HT', '#2fb52f', 'dashed', 1],
  [324, 'vmax', '#44bbff', 'dotted', 1],
  [330.7, 'cs', '#f02020', 'dashed', 1],
  [337.7, 'dvmax', '#1c1cf0', 'dotted', 1],
  [344, 'V<sub>i</sub>', '#444', 'solid', 1],
  [389.3, 'V<sub>L</sub>', '#2030f0', 'solid', 1],
  [418.7, 'V<sub>N</sub>', '#f02020', 'solid', 1],
  [457.7, 'Ne', '#f02020', 'solid', 1],
  [470, 'Ni', '#444', 'solid', 1],
  [523.3, 'N&nbsp; He+', '#33dd33', 'solid', 1],
  [532.3, 'N&nbsp; He++', '#f02020', 'solid', 1],
  [541.7, 'N&nbsp; O+', '#1414e8', 'solid', 1],
  [596, 'T<sub>\u2225</sub>', '#f02020', 'solid', 1],
  [615, 'T<sub>\u22a5</sub>', '#444', 'solid', 1],
  [660.7, 'P<sub>n</sub>', '#33dd33', 'solid', 1],
  [671.7, 'P<sub>B</sub>', '#f02020', 'solid', 1],
  [683, 'P<sub>h</sub>', '#444', 'solid', 1],
  [694, 'P<sub>tot</sub>', '#2030f0', 'solid', 1]
]);
legend(674, 694, [
  [55, 'B<sub>L</sub>', '#2030f0', 'solid', 1],
  [79.3, 'B<sub>M</sub>', '#33dd33', 'solid', 1],
  [104.3, 'B<sub>N</sub>', '#f02020', 'solid', 1],
  [198, 'V<sub>L</sub>', '#2030f0', 'solid', 1],
  [215, 'V<sub>M</sub>', '#33dd33', 'solid', 1],
  [234, 'V<sub>N</sub>', '#f02020', 'solid', 1],
  [270, 'T<sub>\u2225</sub>', '#f02020', 'solid', 1],
  [286, 'T<sub>\u22a5</sub>', '#444', 'solid', 1],
  [343, 'E<sub>L</sub>', '#2030f0', 'solid', 1],
  [352.7, 'E<sub>M</sub>', '#33dd33', 'solid', 1],
  [362.3, 'E<sub>N</sub>', '#f02020', 'solid', 1],
  [418, '-(Ve x B)<sub>M</sub>', '#555', 'solid', 1],
  [429, 'E<sub>M</sub>', '#33dd33', 'solid', 1],
  [500, '|J|', '#555', 'solid', 1],
  [563, 't&nbsp; maxJ', '#ff20ff', 'dotted', 1],
  [570.7, 'J<sub>L</sub>', '#2030f0', 'solid', 1],
  [578.7, 'J<sub>M</sub>', '#33dd33', 'solid', 1],
  [585, 'J<sub>N</sub>', '#f02020', 'solid', 1],
  [647.7, "J*E'", '#555', 'solid', 1]
]);

// event summary column
const infoLines = [
':',
' Event ID         : 20151213_002724',
' FlagStr          : mp,o,mon,bf,s,compl,keep',
' GSEpos [Re]      : [ 9.48, -4.41, -0.74 ]',
'                  :',
' LMN coords       :',
'    L             : [  0.275, -0.182,  0.944 ]',
'    M             : [  0.304,  0.948,  0.094 ]',
'    N             : [  0.912, -0.262, -0.317 ]',
'                  :',
'  Times           : (as indicated by red, green lines in plots)',
'    t_0           : 00:28:07  (red dotted line)',
'    t_MVAB1       : 00:27:29  (leftmost green line)',
'    t_MVAB2       : 00:29:37  (rightmost green line)',
'                  :',
'|Bmin|, |Vmax|    :',
'    Bmin          : 8.47 [nT]  at 00:28:30',
'    Vmax_tht      : 263.15 [km/s]  at 00:27:30',
'    Vmax_tburst   : 263.15 [km/s]  at 00:28:02',
'                  :',
' Normals          :',
'    N MVAB        : [  0.910, -0.264, -0.320 ]   (L2/L1 = 3.15)',
'    N MVAB0       : [  0.939, -0.152, -0.308 ]   (L3/L2 = 69.34)',
'    N MFR         : [ -0.974,  0.009,  0.227 ]   (L2/L1 = 4.16)',
'                  :',
' Durations [s]    : (between red, resp green lines)',
'    T_CS          : 103.90',
'    T_MFR/HT      : 207.80',
'                  :',
' Velocity [km/s]  : (based on FPI ion data)',
'    VnMFR         : 20.4',
'    VHT.Nmvab     : 7.0  (HTcc = 0.830)',
'    VHT.Nmvab0    : 13.5',
'                  :',
' CS thickness [km]: (D=T_CS * Vs from above)',
'    D1=TCS*Vnmfr  : 2,122',
'    D2=TCS*VHTn   : 728',
'    D3=TCS*VHTn0  : 1,401',
'                  :',
' Currents [uA/m2] :',
'    Jave_CS       : 0.029',
'    Jmax_THT      : 1.203  at 00:28:05',
'    Jmax_brst     : 1.203  at 00:28:05',
'                  :',
' HPCA mom [1/cm3] :   Min   -  Max    (  Ave   )  within full brst int',
'    H+            :   0.073 - 19.822  (  0.073 )',
'    He+           :   0.000 -  0.009  (  0.000 )',
'    He++          :   0.002 -  1.606  (  0.002 )',
'    O+            :   0.000 -  0.010  (  0.000 )',
'                  :',
' SEH date         : 2019-11-29 08:52:17',
'                  :'
];
document.getElementById('info').textContent = infoLines.join('\n');
</script>
</body>
</html>
